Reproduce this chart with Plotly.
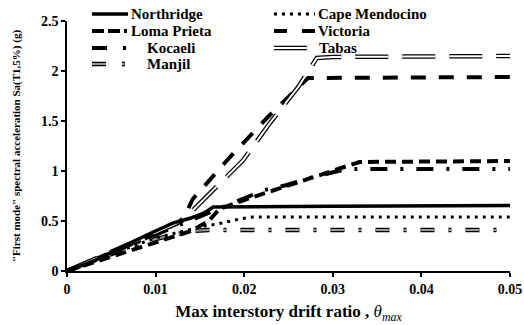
import plotly.graph_objects as go

# ---- data ----
northridge_x = [0, 0.003, 0.006, 0.009, 0.012, 0.014, 0.0155, 0.0165, 0.03, 0.05]
northridge_y = [0, 0.10, 0.23, 0.36, 0.48, 0.53, 0.58, 0.64, 0.648, 0.655]

cape_x = [0, 0.005, 0.01, 0.015, 0.0175, 0.0195, 0.021, 0.05]
cape_y = [0, 0.17, 0.33, 0.44, 0.48, 0.52, 0.54, 0.54]

loma_x = [0, 0.005, 0.01, 0.014, 0.016, 0.0172, 0.02, 0.025, 0.03, 0.033, 0.05]
loma_y = [0, 0.14, 0.28, 0.40, 0.50, 0.62, 0.71, 0.86, 1.00, 1.09, 1.10]

victoria_x = [0, 0.005, 0.01, 0.013, 0.0142, 0.0184, 0.0229, 0.0272, 0.05]
victoria_y = [0, 0.19, 0.37, 0.50, 0.72, 1.14, 1.56, 1.93, 1.94]

kocaeli_x = [0, 0.005, 0.01, 0.014, 0.0165, 0.019, 0.0223, 0.0248, 0.0274, 0.030, 0.0316, 0.05]
kocaeli_y = [0, 0.18, 0.36, 0.50, 0.60, 0.69, 0.81, 0.86, 0.93, 0.99, 1.02, 1.02]

tabas_x = [0, 0.005, 0.01, 0.0125, 0.0139, 0.0163, 0.0199, 0.0229, 0.0261, 0.0271, 0.0282, 0.03, 0.05]
tabas_y = [0, 0.19, 0.38, 0.48, 0.58, 0.79, 1.11, 1.48, 1.84, 1.98, 2.13, 2.14, 2.15]

manjil_x = [0, 0.005, 0.01, 0.014, 0.016, 0.05]
manjil_y = [0, 0.17, 0.32, 0.40, 0.41, 0.41]

x_ticks = [0, 0.01, 0.02, 0.03, 0.04, 0.05]
x_labels = ["0", "0.01", "0.02", "0.03", "0.04", "0.05"]
y_ticks = [0, 0.5, 1, 1.5, 2, 2.5]
y_labels = ["0", "0.5", "1", "1.5", "2", "2.5"]

FONT = "Liberation Serif"

fig = go.Figure()

def add(x, y, color, width, dash):
    fig.add_trace(go.Scatter(x=x, y=y, mode="lines", showlegend=False,
                             line=dict(color=color, width=width, dash=dash),
                             hoverinfo="skip"))

styles = {
    "Manjil": [("black", 4.5, "14px,14px,3px,14px"), ("#9a9a9a", 2.2, "14px,14px,3px,14px")],
    "Cape Mendocino": [("black", 3, "3px,5px")],
    "Kocaeli": [("black", 4, "17px,13px,3px,13px")],
    "Loma Prieta": [("black", 4, "11px,6px")],
    "Victoria": [("black", 4, "15px,13px")],
    "Tabas": [("black", 4.5, "33px,14px"), ("white", 2, "33px,14px")],
    "Northridge": [("black", 3.5, "solid")],
}
series = {
    "Manjil": (manjil_x, manjil_y),
    "Cape Mendocino": (cape_x, cape_y),
    "Kocaeli": (kocaeli_x, kocaeli_y),
    "Loma Prieta": (loma_x, loma_y),
    "Victoria": (victoria_x, victoria_y),
    "Tabas": (tabas_x, tabas_y),
    "Northridge": (northridge_x, northridge_y),
}
for name, (xs, ys) in series.items():
    for c, w, d in styles[name]:
        add(xs, ys, c, w, d)

# ---- manual legend (paper coordinates) ----
W, H = 524, 325
L, R, T, B = 67, 14, 21, 54
pw, ph = W - L - R, H - T - B
def px(xp):
    return (xp - L) / pw
def py(yp):
    return 1 - (yp - T) / ph

legend_items = [
    ("Northridge", 92, 128, 129, 14),
    ("Cape Mendocino", 274, 315, 316, 14),
    ("Loma Prieta", 92, 128, 129, 31),
    ("Victoria", 274, 315, 316, 31),
    ("Kocaeli", 92, 140, 145, 48),
    ("Tabas", 274, 308, 317, 48),
    ("Manjil", 92, 140, 145, 64),
]
legend_dash = {
    "Kocaeli": "15px,16px,3px,20px",
    "Manjil": "14px,16px,3px,20px",
    "Loma Prieta": "12px,4px,12px,4px,3px,8px",
    "Victoria": "13px,15px,13px,8px",
}
shapes = []
annotations = []
for name, x0, x1, xt, yc in legend_items:
    for c, w, d in styles[name]:
        dd = legend_dash.get(name, d)
        shapes.append(dict(type="line", xref="paper", yref="paper",
                           x0=px(x0), x1=px(x1), y0=py(yc), y1=py(yc),
                           line=dict(color=c, width=w, dash=dd)))
    annotations.append(dict(text="<b>%s</b>" % name, xref="paper", yref="paper",
                            x=px(xt), y=py(yc), xanchor="left", yanchor="middle",
                            showarrow=False, font=dict(family=FONT, size=15, color="black")))

fig.update_layout(
    width=W, height=H,
    margin=dict(l=L, r=R, t=T, b=B),
    paper_bgcolor="white", plot_bgcolor="white",
    shapes=shapes, annotations=annotations,
    font=dict(family=FONT, color="black"),
    xaxis=dict(range=[0, 0.05], tickvals=x_ticks, ticktext=["<b>%s</b>" % t for t in x_labels],
               showgrid=False, zeroline=False, showline=True, linecolor="black", linewidth=1.5,
               ticks="outside", ticklen=4, tickcolor="black", tickwidth=1.5,
               tickfont=dict(family=FONT, size=14), automargin=False,
               title=dict(text="<b>Max interstory drift ratio , </b><i>θ</i><sub><i>max</i></sub>",
                          font=dict(family=FONT, size=17), standoff=10)),
    yaxis=dict(range=[0, 2.5], tickvals=y_ticks, ticktext=["<b>%s</b>" % t for t in y_labels],
               showgrid=False, zeroline=False, showline=True, linecolor="black", linewidth=1.5,
               ticks="outside", ticklen=4, tickcolor="black", tickwidth=1.5,
               tickfont=dict(family=FONT, size=14), automargin=False,
               title=dict(text="<b>\"First mode\" spectral acceleration Sa(T1,5%) (g)</b>",
                          font=dict(family=FONT, size=11), standoff=18)),
)

fig.write_html("out.html")
